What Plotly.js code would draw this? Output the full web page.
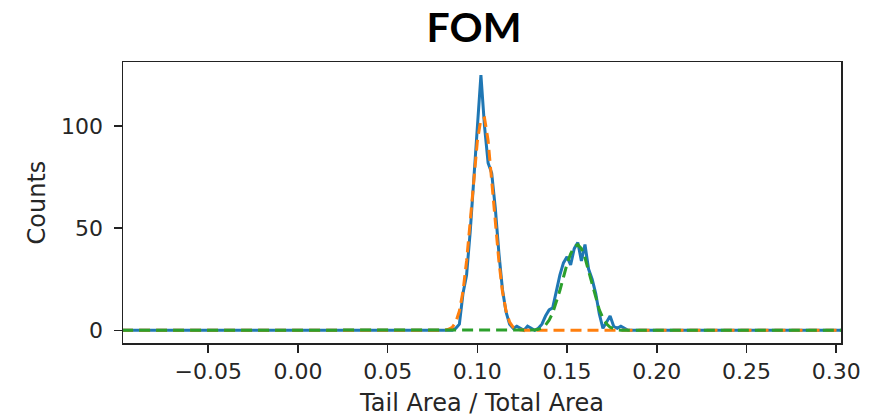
<!DOCTYPE html>
<html>
<head>
<meta charset="utf-8">
<script src="https://cdn.plot.ly/plotly-3.0.1.min.js"></script>
<style>html,body{margin:0;padding:0;background:#fff;}#chart{width:884px;height:417px;}</style>
</head>
<body>
<div id="chart"></div>
<script>
// Measured histogram (blue) – Tail Area / Total Area bins and counts
const xData = [-0.098, -0.06, -0.02, 0.02, 0.06, 0.084, 0.086, 0.088, 0.090, 0.092, 0.094, 0.096, 0.098,
  0.100, 0.102, 0.104, 0.106, 0.108, 0.110, 0.112, 0.114, 0.116, 0.118, 0.120, 0.122, 0.124, 0.126,
  0.128, 0.130, 0.132, 0.134, 0.136, 0.138, 0.140, 0.142, 0.144, 0.146, 0.148, 0.150, 0.152, 0.154,
  0.156, 0.158, 0.160, 0.162, 0.164, 0.166, 0.168, 0.170, 0.172, 0.174, 0.176, 0.178, 0.180, 0.182,
  0.184, 0.22, 0.26, 0.303];
const countsData = [0, 0, 0, 0, 0, 0, 0, 1, 3, 18, 27, 48, 75,
  97, 125, 100, 82, 77, 60, 38, 20, 9, 3, 1, 2, 1, 0,
  2, 1, 0, 1, 3, 7, 10, 11, 19, 27, 33, 36, 32, 40,
  43, 34, 42, 30, 25, 18, 8, 1, 4, 7, 2, 1, 2, 1,
  0, 0, 0, 0];

// Fit of first peak (orange dashed)
const xFit1 = [-0.098, -0.05, 0.0, 0.05, 0.082, 0.084, 0.086, 0.088, 0.090, 0.092, 0.094, 0.096, 0.098,
  0.100, 0.102, 0.104, 0.106, 0.108, 0.110, 0.112, 0.114, 0.116, 0.118, 0.120, 0.122, 0.124, 0.126,
  0.15, 0.20, 0.25, 0.303];
const fit1 = [0, 0, 0, 0, 0.1, 0.5, 1.5, 4, 9.5, 19, 34, 53, 74,
  92.5, 103.5, 104, 93, 74, 53, 34, 19, 9.5, 4, 1.5, 0.5, 0.1, 0,
  0, 0, 0, 0];

// Fit of second peak (green dashed)
const xFit2 = [-0.098, -0.05, 0.0, 0.05, 0.10, 0.130, 0.132, 0.134, 0.136, 0.138, 0.140, 0.142, 0.144,
  0.146, 0.148, 0.150, 0.152, 0.154, 0.156, 0.158, 0.160, 0.162, 0.164, 0.166, 0.168, 0.170, 0.172,
  0.174, 0.176, 0.178, 0.180, 0.182, 0.20, 0.25, 0.303];
const fit2 = [0, 0, 0, 0, 0, 0, 0.2, 0.5, 1.2, 2.6, 5, 8.5, 13.5,
  19.5, 26, 32.5, 37.5, 41, 42, 40, 35.5, 29, 22, 15.5, 10, 6, 3.2,
  1.5, 0.7, 0.3, 0.1, 0, 0, 0, 0];

const xTicks = [-0.05, 0.00, 0.05, 0.10, 0.15, 0.20, 0.25, 0.30];
const xTickText = ['\u22120.05', '0.00', '0.05', '0.10', '0.15', '0.20', '0.25', '0.30'];
const yTicks = [0, 50, 100];

const traces = [
  {x: xData, y: countsData, type: 'scatter', mode: 'lines', name: 'data',
   line: {color: '#1f77b4', width: 3}},
  {x: xFit1, y: fit1, type: 'scatter', mode: 'lines', name: 'fit 1',
   line: {color: '#ff7f0e', width: 3, dash: '11px,6px'}},
  {x: xFit2, y: fit2, type: 'scatter', mode: 'lines', name: 'fit 2',
   line: {color: '#2ca02c', width: 3, dash: '11px,6px'}}
];

const tickFont = {family: 'DejaVu Sans', size: 22, color: '#262626'};
const axTitleFont = {family: 'DejaVu Sans', size: 24, color: '#262626'};

const layout = {
  width: 884, height: 417,
  margin: {l: 123, r: 43, t: 62, b: 74, pad: 0},
  paper_bgcolor: '#ffffff', plot_bgcolor: '#ffffff',
  showlegend: false,
  title: {text: '<b>FOM</b>', font: {family: 'Lato', size: 41, color: '#000'},
          x: 474/884, xanchor: 'center', xref: 'container',
          y: 1 - 28/417, yanchor: 'middle', yref: 'container'},
  xaxis: {
    range: [-0.0975, 0.3027], tickvals: xTicks, ticktext: xTickText,
    showgrid: false, zeroline: false, showline: true, mirror: true,
    linecolor: '#222', linewidth: 1.5,
    ticks: 'outside', ticklen: 8, tickwidth: 1.5, tickcolor: '#222',
    tickfont: tickFont, ticklabelstandoff: 0,
    title: {text: 'Tail Area / Total Area', font: axTitleFont, standoff: 11}
  },
  yaxis: {
    range: [-6.2, 131.4], tickvals: yTicks,
    showgrid: false, zeroline: false, showline: true, mirror: true,
    linecolor: '#222', linewidth: 1.5,
    ticks: 'outside', ticklen: 8, tickwidth: 1.5, tickcolor: '#222',
    tickfont: tickFont, ticklabelstandoff: 6,
    title: {text: 'Counts', font: axTitleFont, standoff: 8}
  }
};

Plotly.newPlot('chart', traces, layout, {displayModeBar: false, staticPlot: true});
</script>
</body>
</html>
